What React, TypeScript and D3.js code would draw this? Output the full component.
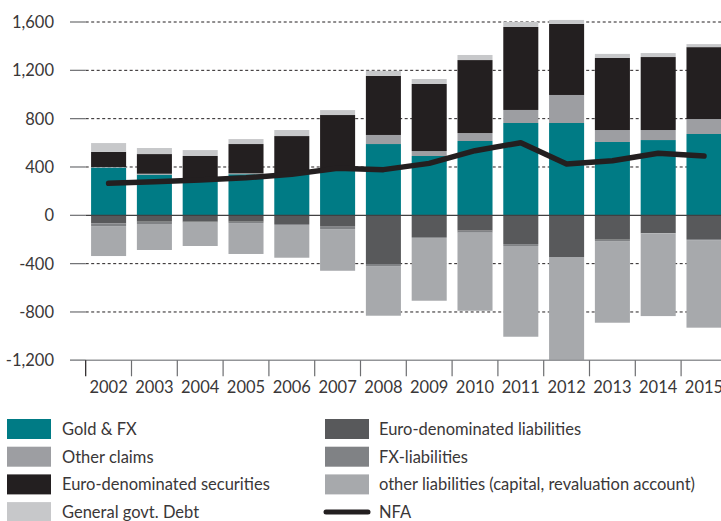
import React, { useEffect, useRef } from 'react';
import * as d3 from 'd3';

// years on the x axis
const years = ['2002', '2003', '2004', '2005', '2006', '2007', '2008', '2009', '2010', '2011', '2012', '2013', '2014', '2015'];

// assets (stacked upwards), bn EUR
const goldFx = [395, 336, 282, 340, 345, 380, 590, 491, 615, 764, 764, 607, 623, 673];
const otherClaims = [5, 8, 0, 8, 5, 3, 75, 41, 66, 108, 232, 99, 83, 124];
const euroSecurities = [125, 163, 209, 242, 306, 447, 489, 555, 604, 687, 588, 596, 604, 595];
const govDebt = [73, 50, 49, 41, 50, 41, 42, 41, 42, 41, 33, 34, 33, 25];

// liabilities (stacked downwards)
const euroLiabilities = [66, 53, 53, 53, 72, 89, 403, 180, 127, 238, 345, 202, 147, 196];
const fxLiabilities = [23, 19, 8, 11, 8, 25, 17, 8, 17, 16, 0, 11, 3, 9];
const otherLiabilities = [248, 215, 193, 256, 271, 345, 411, 519, 646, 751, 855, 676, 684, 725];

// net foreign assets
const nfa = [265, 278, 292, 311, 339, 390, 378, 430, 535, 601, 425, 452, 513, 491];

const yTicks = [-1200, -800, -400, 0, 400, 800, 1200, 1600];

const FONT = 'Lato, "Noto Sans", sans-serif';
const TEXT_COLOR = '#3a3738';

interface Series {
    label: string;
    color: string;
    values: number[];
}

const App: React.FC = () => {
    const ref = useRef<SVGSVGElement | null>(null);

    useEffect(() => {
        if (!ref.current) return;
        const svg = d3.select(ref.current);
        svg.selectAll('*').remove();

        const width = 721;
        const left = 85.7;
        const top = 22;
        const bottom = 360.3;

        const x = d3.scaleBand<string>()
            .domain(years)
            .range([left, left + 45.8 * years.length])
            .padding(0);
        const barW = x.step() * 0.765;
        const barOff = (x.step() - barW) / 2;

        const y = d3.scaleLinear().domain([-1200, 1600]).range([bottom, top]);

        const positive: Series[] = [
            { label: 'Gold & FX', color: '#007b85', values: goldFx },
            { label: 'Other claims', color: '#9d9ea2', values: otherClaims },
            { label: 'Euro-denominated securities', color: '#231f20', values: euroSecurities },
            { label: 'General govt. Debt', color: '#c7c8ca', values: govDebt },
        ];
        const negative: Series[] = [
            { label: 'Euro-denominated liabilities', color: '#58595b', values: euroLiabilities },
            { label: 'FX-liabilities', color: '#808285', values: fxLiabilities },
            { label: 'other liabilities (capital, revaluation account)', color: '#a7a9ac', values: otherLiabilities },
        ];

        // gridlines + left ticks
        const grid = svg.append('g');
        yTicks.forEach(t => {
            if (t !== 0 && t !== -1200) {
                grid.append('line')
                    .attr('x1', left).attr('x2', width)
                    .attr('y1', y(t)).attr('y2', y(t))
                    .attr('stroke', '#231f20').attr('stroke-width', 1)
                    .attr('stroke-dasharray', '3,2.5');
            }
            grid.append('line')
                .attr('x1', 70).attr('x2', left)
                .attr('y1', y(t)).attr('y2', y(t))
                .attr('stroke', '#6d6e71').attr('stroke-width', 1.2);
        });

        // y labels
        const fmt = (d: number) => d3.format(',')(d).replace('\u2212', '-');
        svg.append('g').selectAll('text')
            .data(yTicks)
            .join('text')
            .attr('x', 54)
            .attr('y', d => y(d))
            .attr('dy', '0.36em')
            .attr('text-anchor', 'end')
            .attr('font-family', FONT)
            .attr('font-size', 16.5)
            .attr('fill', TEXT_COLOR)
            .text(d => fmt(d));

        // stacked bars
        const bars = svg.append('g');
        years.forEach((yr, i) => {
            let base = 0;
            positive.forEach(s => {
                const v = s.values[i];
                if (v > 0) {
                    bars.append('rect')
                        .attr('x', (x(yr) as number) + barOff)
                        .attr('width', barW)
                        .attr('y', y(base + v))
                        .attr('height', y(base) - y(base + v))
                        .attr('fill', s.color);
                }
                base += v;
            });
            base = 0;
            negative.forEach(s => {
                const v = s.values[i];
                if (v > 0) {
                    bars.append('rect')
                        .attr('x', (x(yr) as number) + barOff)
                        .attr('width', barW)
                        .attr('y', y(base))
                        .attr('height', y(base - v) - y(base))
                        .attr('fill', s.color);
                }
                base -= v;
            });
        });

        // zero line
        svg.append('line')
            .attr('x1', left).attr('x2', width)
            .attr('y1', y(0)).attr('y2', y(0))
            .attr('stroke', '#414042').attr('stroke-width', 1.2);

        // bottom axis line
        svg.append('line')
            .attr('x1', 70).attr('x2', width)
            .attr('y1', y(-1200)).attr('y2', y(-1200))
            .attr('stroke', '#939598').attr('stroke-width', 1.6);

        // category boundary ticks
        svg.append('g').selectAll('line')
            .data(years)
            .join('line')
            .attr('x1', d => x(d) as number).attr('x2', d => x(d) as number)
            .attr('y1', bottom).attr('y2', bottom + 16)
            .attr('stroke', (d, i) => (i === 0 ? '#231f20' : '#6d6e71'))
            .attr('stroke-width', 1.2);

        // year labels
        svg.append('g').selectAll('text')
            .data(years)
            .join('text')
            .attr('x', d => (x(d) as number) + x.step() / 2)
            .attr('y', 392.5)
            .attr('text-anchor', 'middle')
            .attr('font-family', FONT)
            .attr('font-size', 16.5)
            .attr('fill', TEXT_COLOR)
            .text(d => d);

        // NFA line
        const line = d3.line<number>()
            .x((d, i) => (x(years[i]) as number) + x.step() / 2)
            .y(d => y(d));
        svg.append('path')
            .datum(nfa)
            .attr('fill', 'none')
            .attr('stroke', '#231f20')
            .attr('stroke-width', 5.5)
            .attr('stroke-linecap', 'round')
            .attr('stroke-linejoin', 'round')
            .attr('d', line);

        // legend
        const legend = svg.append('g');
        const rowY = (i: number) => 419 + i * 27.7;
        const legendText = (xPos: number, i: number, label: string) =>
            legend.append('text').attr('x', xPos).attr('y', rowY(i) + 10).attr('dy', '0.36em')
                .attr('font-family', FONT).attr('font-size', 16.5)
                .attr('fill', TEXT_COLOR).text(label);
        positive.forEach((s, i) => {
            legend.append('rect').attr('x', 7).attr('y', rowY(i)).attr('width', 44).attr('height', 20).attr('fill', s.color);
            legendText(62, i, s.label);
        });
        negative.forEach((s, i) => {
            legend.append('rect').attr('x', 325).attr('y', rowY(i)).attr('width', 44).attr('height', 20).attr('fill', s.color);
            legendText(379, i, s.label);
        });
        legend.append('line')
            .attr('x1', 326).attr('x2', 368)
            .attr('y1', rowY(3) + 10).attr('y2', rowY(3) + 10)
            .attr('stroke', '#231f20').attr('stroke-width', 5)
            .attr('stroke-linecap', 'round');
        legendText(379, 3, 'NFA');
    }, []);

    return (
        <svg
            ref={ref}
            width={721}
            height={521}
            style={{ position: 'absolute', left: 0, top: 0, background: '#fff' }}
        />
    );
};

export default App;
